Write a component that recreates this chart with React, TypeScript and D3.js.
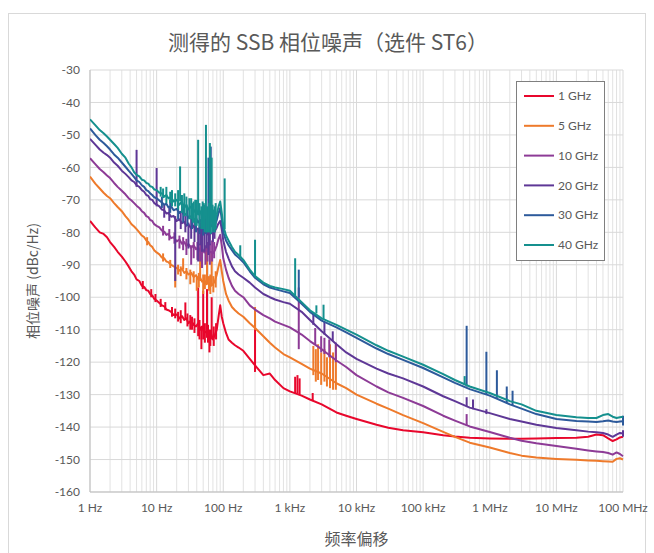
import React from 'react';
import * as d3 from 'd3';

const FREQ = [
  1, 1.2, 1.4, 1.6, 1.8, 2, 2.3, 2.6, 3, 3.4,
  3.8, 4.2, 4.6, 5, 5.5, 6, 6.5, 7, 7.5, 8,
  8.6, 9.2, 10, 11, 12, 13, 14, 15, 16.5, 18,
  20, 22, 24, 26, 28, 30, 33, 36, 39, 42,
  45, 48, 52, 56, 60, 65, 70, 75, 80, 85,
  90, 95, 100, 110, 120, 135, 150, 170, 200, 250,
  300, 400, 500, 600, 800, 1e3, 1.5e3, 2e3, 3e3, 5e3,
  7e3, 1e4, 2e4, 3e4, 5e4, 1e5, 2e5, 3e5, 5e5, 1e6,
  2e6, 3e6, 5e6, 1e7, 2e7, 3e7, 4e7, 5e7, 6e7, 7e7,
  8e7, 9e7, 1e8,
];

const PN_1G = [
  -76.5, -78.5, -80, -80.5, -81.5, -83, -84.5, -86, -87.5, -89,
  -90.5, -92, -93, -94.5, -95, -96.5, -96.8, -97.8, -98, -99,
  -99.5, -100.5, -101, -101.8, -102.5, -102.8, -103.8, -104, -104.5, -105.5,
  -105.3, -106.5, -105.8, -107, -106.5, -108, -107.2, -108.5, -109, -108,
  -110, -109, -111, -110.5, -112, -111, -113, -111.5, -110, -106,
  -102.5, -106, -108, -111, -113, -114, -114.8, -115.5, -116.5, -119,
  -121, -124, -123.5, -125.5, -128, -129, -130.3, -131.5, -133, -135.5,
  -136.5, -137.5, -139.3, -140.2, -141, -141.6, -142.5, -142.9, -143.3, -143.5,
  -143.6, -143.6, -143.5, -143.4, -143.3, -143, -142.3, -142.5, -143.5, -144.3,
  -143.8, -143.2, -143,
];

const PN_5G = [
  -62.8, -65, -66.5, -67.8, -68.8, -69.5, -71, -72.2, -73.5, -75,
  -76.2, -77.5, -78.2, -79, -80, -81, -81.5, -82.5, -83, -84,
  -84.5, -85.5, -86.2, -86.8, -87.8, -88, -89, -89.2, -90, -90.5,
  -91, -91.8, -91.2, -92.5, -92, -93, -92.5, -93.8, -93.2, -94.5,
  -94, -95.2, -94.8, -96, -95.5, -96.5, -96, -95, -93, -90.5,
  -88.5, -92, -95, -99, -101, -103, -104, -105, -106, -108,
  -109.5, -112, -114, -115.5, -117.5, -118.5, -120.5, -122, -123.5, -126.5,
  -128, -130, -132.8, -134.3, -136.3, -138.8, -141.5, -143, -144.8, -146.3,
  -148, -148.8, -149.4, -149.8, -150.1, -150.3, -150.4, -150.5, -150.6, -150.7,
  -149.8, -149.6, -150,
];

const PN_10G = [
  -57.2, -59, -60.5, -61.5, -62.5, -63.3, -64.8, -66, -67.2, -68.3,
  -69.5, -70.2, -71, -71.8, -72.5, -73.5, -74, -75, -75.3, -76.2,
  -76.5, -77.5, -78, -78.5, -79.5, -79.8, -80.8, -80.5, -81.8, -81.5,
  -82.8, -82.2, -83.5, -83, -84.2, -83.6, -84.8, -84, -85.2, -84.6,
  -85.8, -85, -86.2, -85.5, -86.5, -86, -86.5, -85.5, -84, -82,
  -80.8, -84, -88, -91.5, -94, -96.5, -98, -99, -100, -102.5,
  -103.8, -105.5, -106.5, -107.5, -108.5, -109.3, -111.5, -113.5, -116, -119.5,
  -121.5, -124, -127.5, -129.3, -131, -133.5, -136.5, -138, -139.8, -141.5,
  -143.3, -144.2, -145, -145.8, -146.7, -147.2, -147.5, -147.7, -148, -148.5,
  -147.8, -148.3, -149,
];

const PN_20G = [
  -51.2, -53, -54.5, -55.5, -56.2, -57, -58.5, -59.5, -61, -62,
  -63, -64, -64.5, -65.5, -66, -67, -67.5, -68.5, -68.8, -69.8,
  -70, -71, -71.5, -72, -73, -73.2, -74.2, -74, -75.2, -75,
  -76.5, -76, -77.2, -76.8, -78, -77.5, -78.8, -78, -79.5, -78.8,
  -80, -79.2, -80.5, -79.8, -80.8, -80.2, -80.5, -79.5, -78.5, -77.2,
  -76.5, -79, -82.5, -86, -88, -90.5, -92, -93, -94, -95.5,
  -97, -99, -100, -100.7, -101.5, -102, -104.5, -107, -110.5, -114.5,
  -117, -119, -122, -123.5, -125, -127.5, -130.5, -132, -134, -135.7,
  -137.5, -138.3, -139.3, -140.3, -141, -141.4, -141.6, -141.8, -142.3, -143,
  -142.3, -141.8, -142,
];

const PN_30G = [
  -48, -50, -51.5, -52.5, -53.5, -54.5, -56, -57, -58.5, -59.8,
  -61, -62, -63, -64, -64.5, -65.5, -66, -67, -67.3, -68,
  -68.5, -69.2, -69.5, -70.2, -70.8, -71.5, -71.2, -72.3, -72, -73.2,
  -72.8, -74, -73.5, -74.8, -74.2, -75.5, -75, -76.2, -75.6, -77,
  -76.2, -77.5, -76.8, -78, -77.2, -78.2, -77.5, -77.8, -76.2, -74,
  -72.5, -76, -80, -82.5, -84, -85.5, -86.8, -87.8, -89.2, -92,
  -94, -96, -97, -97.5, -98.2, -98.7, -102, -104.5, -107.2, -109.3,
  -110.8, -112.5, -115.8, -117.5, -119.3, -121.8, -124.7, -126.4, -128.3, -130.3,
  -133, -134.3, -136, -137.5, -138.1, -138.3, -138.4, -138.2, -138, -138.3,
  -138.4, -138.3, -138.2,
];

const PN_40G = [
  -45.2, -47, -48.5, -49.5, -50.5, -51.5, -52.8, -54, -55.8, -57,
  -58.8, -60, -61.5, -62.3, -62.8, -63.8, -64, -64.8, -65, -65.8,
  -66, -66.8, -67, -67.8, -68, -69, -68.5, -69.5, -69.2, -70.5,
  -70, -71.5, -70.5, -72.5, -71.5, -73, -72, -73.8, -72.8, -74.5,
  -73.5, -75, -74, -76, -75, -76.5, -75.8, -76.5, -74.5, -72,
  -70.5, -74, -78, -81, -82.5, -84.5, -86, -87, -88.5, -91.5,
  -93.5, -95.5, -96.5, -97, -97.5, -98, -101.5, -104, -106.5, -108.5,
  -110, -111.5, -114.8, -116.5, -118.3, -120.8, -123.7, -125.5, -127.5, -129.5,
  -132, -133, -135, -136.3, -137, -137.2, -137.2, -136.3, -136, -136.8,
  -137.2, -137, -136.8,
];

// spurs and noise excursions: [frequency Hz, low dB, high dB]
const SPURS_1G = [
  [6.2, -97.5, -95], [8.3, -100, -97.5], [9.6, -101.5, -99], [11.5, -103, -100.5],
  [13.5, -104, -101.5], [17, -106, -103], [19, -106.5, -103.5], [21, -107.5, -104.5],
  [23, -108, -104], [27, -107, -101.6], [29, -109, -105], [32, -110, -105.5],
  [34, -110, -106], [37, -111, -106.5], [42, -112, -97], [44, -113, -107],
  [47, -116, -109], [50, -113, -98], [53, -114, -108], [57, -112.5, -97.5],
  [59, -114, -108.5], [62, -117, -110], [64, -115, -110], [67, -113, -100],
  [72, -115, -109], [78, -113, -108], [300, -123, -107],
  [1200, -129.5, -124.5], [1300, -129.7, -124], [1400, -130, -125], [2200, -132, -129.5],
];
const SPURS_5G = [
  [7.2, -84, -81.5], [12.5, -89, -86.5], [16, -91, -88.5], [19, -97, -90.5],
  [21, -93, -90], [23, -93.5, -90.5], [25, -91.5, -88], [28, -94.5, -91],
  [32, -96, -91.5], [36, -95.5, -92], [40, -98, -93.5], [43, -97, -92.5],
  [45, -95, -85], [50, -99, -93], [53, -97.5, -93], [57, -96, -83],
  [61, -98, -93.5], [64, -99, -93], [67, -96.5, -86], [71, -98.5, -93.5],
  [77, -97, -92], [300, -110, -103],
  [2250, -124, -115], [2450, -126, -116], [2650, -125.5, -114.5], [2950, -127, -117],
  [3300, -126, -116], [3600, -127.5, -118.5], [4000, -128, -114.5], [4450, -128.5, -117],
  [4900, -128.5, -114.5],
];
const SPURS_10G = [
  [12.5, -81, -78], [15.5, -82.5, -79], [18.5, -83.5, -80], [22, -85, -81],
  [25, -85.5, -81.5], [28, -87, -82], [33, -90, -84], [36, -88, -83],
  [41, -88.5, -83], [45, -89, -83.5], [48, -91, -85], [54, -90, -84],
  [58, -89, -83], [63, -90, -83.5], [68, -89, -82.5], [73, -88, -83],
  [1360, -116, -97],
  [2400, -114.5, -109.5], [2950, -117, -112], [3300, -117.5, -112.5], [3900, -118.5, -113],
  [4900, -120, -114], [450000, -139.5, -136],
];
const SPURS_20G = [
  [5, -66, -54.6], [10, -72, -60.2], [13, -75.5, -71.5], [15.5, -76.5, -72.5],
  [19, -95, -75], [23, -79, -74], [27, -80, -75], [30, -85, -77],
  [33, -82, -75.5], [37, -83, -76], [42, -89, -79], [45, -84, -77],
  [48, -86, -77.5], [52, -86, -80], [56, -85, -77], [60, -87, -77],
  [63, -84, -76], [70, -83, -77], [74, -82, -76],
  [2250, -108.5, -105], [3300, -111.5, -107.5],
  [4400, -113.5, -110.5], [450000, -133.5, -130.8], [560000, -134.5, -131.5],
  [890000, -136, -134.5], [1e8, -143, -141],
];
const SPURS_30G = [
  [12, -72.5, -69], [16, -74, -70], [21, -76, -71], [25, -77, -72],
  [29, -78, -72.5], [34, -79, -73.5], [39, -80, -73], [44, -80.5, -74],
  [50, -81, -74], [55, -80.5, -74], [60, -78, -57], [65, -78, -53.6],
  [70, -80, -74.5], [74, -80, -75],
  [1360, -100, -91.5], [450000, -127.5, -108.8],
  [890000, -130, -116.8], [1280000, -131, -122.5], [1800000, -132.5, -127.5],
  [2200000, -133.2, -128.8], [1e8, -139.5, -136.5],
];
const SPURS_40G = [
  [11.5, -69, -66], [12.5, -69.5, -66.5], [14, -71, -66], [16, -71, -67.5],
  [17, -72, -67], [19, -72, -68], [21, -73, -67], [22.5, -70.5, -59.7],
  [24, -74, -68.5], [26, -75, -68], [28, -75, -69], [31, -76, -69.5],
  [33, -76, -69.5], [35, -77, -71], [36, -77, -70.5], [38, -78, -70],
  [40, -78, -70], [42, -74.5, -51.5], [44, -78.5, -71], [47, -79, -72],
  [49, -79, -70.5], [51, -79, -71], [53, -80, -71.5], [55, -75, -46.9],
  [57, -80, -72], [59, -80, -73], [61, -80, -71], [63, -75, -52.5],
  [65, -80.5, -72], [67, -76, -57], [69, -80, -71.5], [72, -79, -73],
  [74, -80, -72], [77, -79, -71], [105, -79, -63.4],
  [180, -88, -84], [300, -93.5, -82.3], [1200, -99.5, -88], [2500, -105, -102.5],
  [3200, -107, -102.3], [420000, -127, -124.3],
];

const SERIES_NAMES = ['1 GHz', '5 GHz', '10 GHz', '20 GHz', '30 GHz', '40 GHz'];
const SERIES_VALUES = [PN_1G, PN_5G, PN_10G, PN_20G, PN_30G, PN_40G];
const SERIES_SPURS = [SPURS_1G, SPURS_5G, SPURS_10G, SPURS_20G, SPURS_30G, SPURS_40G];
const COLORS = ['#E8072C', '#EE7A2B', '#8D3B96', '#5E3796', '#2D5A9B', '#15908E'];

const Y_TICKS = [-30, -40, -50, -60, -70, -80, -90, -100, -110, -120, -130, -140, -150, -160];
const X_TICKS = [1, 10, 100, 1e3, 1e4, 1e5, 1e6, 1e7, 1e8];
const X_TICK_LABELS = ['1 Hz', '10 Hz', '100 Hz', '1 kHz', '10 kHz', '100 kHz', '1 MHz', '10 MHz', '100 MHz'];

const TITLE = '测得的 SSB 相位噪声（选件 ST6）';
const X_TITLE = '频率偏移';
const Y_TITLE = '相位噪声 (dBc/Hz)';

export default function App() {
  const W = 654;
  const H = 553;
  const L = 90, R = 623, T = 70, B = 492;
  const x = d3.scaleLog().domain([1, 1e8]).range([L, R]);
  const y = d3.scaleLinear().domain([-160, -30]).range([B, T]);

  const minor: number[] = [];
  for (let d = 0; d < 8; d++) {
    for (let k = 2; k <= 9; k++) minor.push(k * Math.pow(10, d));
  }

  const line = d3
    .line<number>()
    .x((_, i) => x(FREQ[i]))
    .y((v) => y(v));

  const latin = "Lato, 'Liberation Sans', sans-serif";
  const cjk = "'Noto Sans CJK SC', 'Noto Sans', sans-serif";
  const textColor = '#595959';

  return (
    <svg
      width={W}
      height={H}
      style={{ position: 'absolute', left: 0, top: 0, background: '#fff' }}
    >
      <defs>
        <clipPath id="plotClip">
          <rect x={L} y={T - 2} width={R - L + 2} height={B - T + 2} />
        </clipPath>
      </defs>
      <rect x={8.5} y={13.5} width={637} height={545} fill="#fff" stroke="#d9d9d9" />
      <text x={328} y={50} textAnchor="middle" fontFamily={cjk} fontSize={21} fill={textColor}>
        {TITLE}
      </text>

      {minor.map((f) => (
        <line key={'m' + f} x1={x(f)} x2={x(f)} y1={T} y2={B} stroke="#e2e2e2" strokeWidth={1} />
      ))}
      {X_TICKS.map((f) => (
        <line key={'M' + f} x1={x(f)} x2={x(f)} y1={T} y2={B} stroke="#d9d9d9" strokeWidth={1} />
      ))}
      {Y_TICKS.map((v) => (
        <line key={'h' + v} x1={L} x2={R} y1={y(v)} y2={y(v)} stroke="#d9d9d9" strokeWidth={1} />
      ))}
      <line x1={L} x2={L} y1={T} y2={B} stroke="#bfbfbf" strokeWidth={1} />
      <line x1={L} x2={R} y1={B} y2={B} stroke="#bfbfbf" strokeWidth={1} />

      <g clipPath="url(#plotClip)">
        {SERIES_VALUES.map((vals, si) => (
          <g key={'s' + si}>
            <path d={line(vals) || ''} fill="none" stroke={COLORS[si]} strokeWidth={2} strokeLinejoin="round" />
            {SERIES_SPURS[si].map((sp, k) => (
              <line
                key={k}
                x1={x(sp[0])}
                x2={x(sp[0])}
                y1={y(sp[1])}
                y2={y(sp[2])}
                stroke={COLORS[si]}
                strokeWidth={2}
              />
            ))}
          </g>
        ))}
      </g>

      {Y_TICKS.map((v) => (
        <text key={'yl' + v} x={80} y={y(v)} dy="0.35em" textAnchor="end" fontFamily={latin} fontSize={12} fill={textColor}>
          {v}
        </text>
      ))}
      {X_TICKS.map((f, i) => (
        <text key={'xl' + f} x={x(f)} y={512} textAnchor="middle" fontFamily={latin} fontSize={12} fill={textColor}>
          {X_TICK_LABELS[i]}
        </text>
      ))}
      <text x={(L + R) / 2} y={545} textAnchor="middle" fontFamily={cjk} fontSize={16} fill={textColor}>
        {X_TITLE}
      </text>
      <text
        transform={`translate(38, ${(T + B) / 2}) rotate(-90)`}
        textAnchor="middle"
        fontFamily={cjk}
        fontSize={14}
        fill={textColor}
      >
        {Y_TITLE}
      </text>

      <rect x={516.5} y={81.5} width={88} height={179} fill="#fff" stroke="#7f7f7f" strokeWidth={1} />
      {SERIES_NAMES.map((n, i) => {
        const ly = 96 + i * 29.8;
        return (
          <g key={'lg' + i}>
            <line x1={524} x2={554} y1={ly} y2={ly} stroke={COLORS[i]} strokeWidth={2} />
            <text x={558} y={ly} dy="0.35em" fontFamily={latin} fontSize={12} fill={textColor}>
              {n}
            </text>
          </g>
        );
      })}
    </svg>
  );
}
